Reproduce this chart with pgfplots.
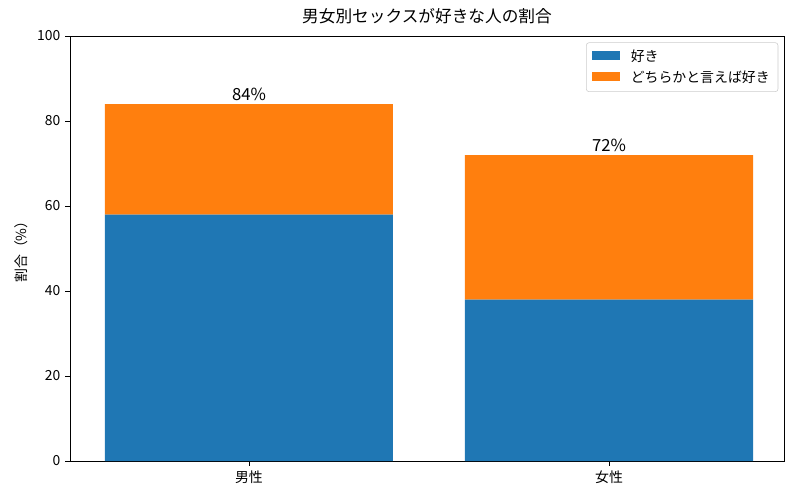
\documentclass[border=0pt]{standalone}
\usepackage{fontspec}
\setmainfont{Noto Sans CJK JP}
\usepackage{pgfplots}
\pgfplotsset{compat=1.18}
\definecolor{mblue}{HTML}{1F77B4}
\definecolor{morange}{HTML}{FF7F0E}
\begin{document}
\begin{tikzpicture}
\begin{axis}[
  at={(0,0)}, anchor=south west,
  scale only axis,
  width=514.08pt, height=306pt,
  ybar stacked,
  bar width=0.8,
  /pgf/bar shift=0pt,
  xmin=-0.497, xmax=1.486,
  ymin=0, ymax=100,
  xtick={0,1},
  xticklabels={男性,女性},
  ytick={0,20,40,60,80,100},
  tick align=outside,
  tick style={black, thin},
  major tick length=3.5pt,
  xtick pos=bottom, ytick pos=left,
  /pgf/number format/assume math mode=true,
  ticklabel style={font=\fontsize{10}{12}\selectfont},
  ylabel={割合（\%）},
  ylabel style={font=\fontsize{10}{12}\selectfont},
  title={男女別セックスが好きな人の割合},
  title style={font=\fontsize{12}{14}\selectfont, yshift=-1pt},
  legend style={at={(0.992,0.985)}, anchor=north east, draw=black!20, rounded corners=2pt,
    font=\fontsize{10}{12}\selectfont, row sep=1.5pt, inner xsep=4pt, inner ysep=3pt},
  legend cell align=left,
  legend image code/.code={\fill[#1, sharp corners] (0pt,-2.5pt) rectangle (20pt,4pt);\path (26pt,0pt);},
  axis line style={black, thin},
]
\addplot[fill=mblue, draw=none] coordinates {(0,58) (1,38)};
\addplot[fill=morange, draw=none] coordinates {(0,26) (1,34)};
\legend{好き, どちらかと言えば好き}
\node[above, inner sep=2pt, font=\fontsize{12}{14}\selectfont] at (axis cs:0,84) {84\%};
\node[above, inner sep=2pt, font=\fontsize{12}{14}\selectfont] at (axis cs:1,72) {72\%};
\end{axis}
\path[use as bounding box] (-50.4pt,-28.08pt) rectangle (525.6pt,331.92pt);
\end{tikzpicture}
\end{document}
